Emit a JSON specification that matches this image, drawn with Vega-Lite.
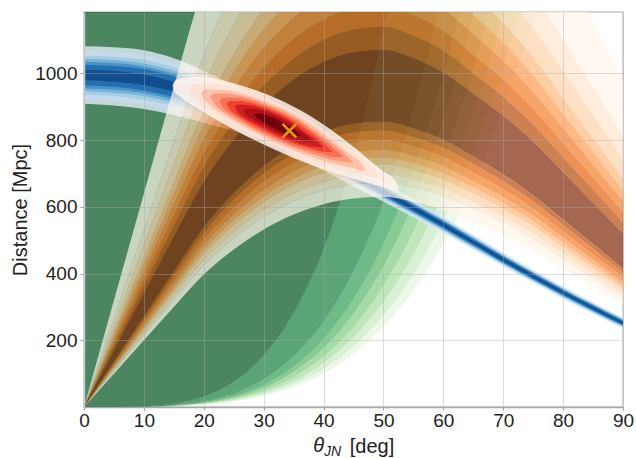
{"$schema":"https://vega.github.io/schema/vega-lite/v6.json","autosize":"none","width":539,"height":395,"padding":{"left":84,"top":12,"right":13,"bottom":51},"background":"white","config":{"view":{"stroke":"#c8c8c8","strokeWidth":1.5},"font":"Liberation Sans"},
"datasets":{
"g":[
{"t":0,"g1":0,"g2":0,"g3":0,"g4":0,"g5":0,"g6":0,"g7":0,"g8":0,"top":12000},
{"t":5,"g1":0.14,"g2":0.08,"g3":0.06,"g4":0.05,"g5":0.04,"g6":0.04,"g7":0.03,"g8":0.03,"top":12000},
{"t":10,"g1":2.1,"g2":1.1,"g3":0.9,"g4":0.8,"g5":0.7,"g6":0.6,"g7":0.5,"g8":0.4,"top":12000},
{"t":15,"g1":10.3,"g2":5.6,"g3":4.4,"g4":3.8,"g5":3.3,"g6":2.9,"g7":2.5,"g8":2.2,"top":12000},
{"t":20,"g1":32,"g2":17,"g3":14,"g4":12,"g5":10,"g6":8.9,"g7":7.7,"g8":6.8,"top":12000},
{"t":25,"g1":76,"g2":41,"g3":33,"g4":28,"g5":24,"g6":21,"g7":18,"g8":16,"top":12000},
{"t":30,"g1":155,"g2":84,"g3":67,"g4":57,"g5":49,"g6":43,"g7":37,"g8":33,"top":12000},
{"t":35,"g1":283,"g2":153,"g3":122,"g4":105,"g5":90,"g6":78,"g7":68,"g8":60,"top":12000},
{"t":40,"g1":474,"g2":257,"g3":205,"g4":175,"g5":151,"g6":131,"g7":114,"g8":100,"top":12000},
{"t":45,"g1":753,"g2":408,"g3":325,"g4":279,"g5":240,"g6":209,"g7":181,"g8":159,"top":12000},
{"t":50,"g1":1137,"g2":616,"g3":491,"g4":421,"g5":363,"g6":315,"g7":274,"g8":240,"top":12000},
{"t":55,"g1":1650,"g2":894,"g3":713,"g4":611,"g5":526,"g6":457,"g7":398,"g8":348,"top":12000},
{"t":60,"g1":2318,"g2":1256,"g3":1001,"g4":858,"g5":739,"g6":642,"g7":559,"g8":489,"top":12000},
{"t":65,"g1":3170,"g2":1718,"g3":1369,"g4":1173,"g5":1011,"g6":878,"g7":764,"g8":669,"top":12000},
{"t":70,"g1":4240,"g2":2298,"g3":1832,"g4":1569,"g5":1353,"g6":1174,"g7":1022,"g8":895,"top":12000},
{"t":75,"g1":5520,"g2":2992,"g3":2385,"g4":2042,"g5":1761,"g6":1529,"g7":1330,"g8":1165,"top":12000},
{"t":80,"g1":7100,"g2":3848,"g3":3067,"g4":2627,"g5":2265,"g6":1967,"g7":1711,"g8":1498,"top":12000}
],
"o":[
{"t":0,"u1":0,"u2":0,"u3":0,"u4":0,"u5":0,"u6":0,"u7":0,"u8":0,"u9":0,"l9":0,"l8":0,"l7":0,"l6":0,"l5":0,"l4":0,"l3":0,"l2":0,"l1":0},
{"t":5,"u1":320,"u2":266,"u3":243,"u4":224,"u5":213,"u6":202,"u7":191,"u8":181,"u9":170,"l9":136,"l8":132,"l7":127,"l6":122,"l5":119,"l4":116,"l3":111,"l2":107,"l1":100},
{"t":10,"u1":640,"u2":532,"u3":486,"u4":448,"u5":425,"u6":404,"u7":382,"u8":362,"u9":340,"l9":271,"l8":263,"l7":254,"l6":245,"l5":238,"l4":231,"l3":222,"l2":214,"l1":200},
{"t":15,"u1":960,"u2":798,"u3":729,"u4":672,"u5":638,"u6":606,"u7":573,"u8":543,"u9":510,"l9":407,"l8":395,"l7":381,"l6":367,"l5":356,"l4":347,"l3":333,"l2":320,"l1":300},
{"t":20,"u1":1270,"u2":1056,"u3":965,"u4":889,"u5":844,"u6":802,"u7":758,"u8":719,"u9":675,"l9":539,"l8":522,"l7":504,"l6":486,"l5":472,"l4":459,"l3":441,"l2":424,"l1":397},
{"t":25,"u1":1510,"u2":1256,"u3":1147,"u4":1057,"u5":1003,"u6":953,"u7":902,"u8":854,"u9":802,"l9":641,"l8":621,"l7":599,"l6":578,"l5":561,"l4":545,"l3":524,"l2":504,"l1":472},
{"t":30,"u1":1702,"u2":1415,"u3":1293,"u4":1192,"u5":1131,"u6":1075,"u7":1016,"u8":963,"u9":904,"l9":722,"l8":700,"l7":676,"l6":651,"l5":632,"l4":614,"l3":591,"l2":568,"l1":532},
{"t":35,"u1":1846,"u2":1535,"u3":1402,"u4":1292,"u5":1226,"u6":1166,"u7":1102,"u8":1044,"u9":981,"l9":783,"l8":759,"l7":733,"l6":706,"l5":685,"l4":666,"l3":640,"l2":616,"l1":577},
{"t":40,"u1":1946,"u2":1617,"u3":1477,"u4":1362,"u5":1292,"u6":1228,"u7":1161,"u8":1100,"u9":1034,"l9":825,"l8":800,"l7":772,"l6":744,"l5":722,"l4":702,"l3":675,"l2":649,"l1":608},
{"t":45,"u1":2000,"u2":1663,"u3":1519,"u4":1400,"u5":1328,"u6":1263,"u7":1194,"u8":1131,"u9":1063,"l9":848,"l8":823,"l7":794,"l6":765,"l5":743,"l4":722,"l3":694,"l2":668,"l1":625},
{"t":50,"u1":2016,"u2":1676,"u3":1531,"u4":1411,"u5":1339,"u6":1273,"u7":1203,"u8":1140,"u9":1071,"l9":855,"l8":829,"l7":800,"l6":771,"l5":748,"l4":728,"l3":699,"l2":673,"l1":630},
{"t":55,"u1":1968,"u2":1636,"u3":1494,"u4":1378,"u5":1307,"u6":1242,"u7":1175,"u8":1113,"u9":1046,"l9":835,"l8":809,"l7":781,"l6":753,"l5":731,"l4":710,"l3":683,"l2":657,"l1":615},
{"t":60,"u1":1888,"u2":1569,"u3":1434,"u4":1322,"u5":1254,"u6":1192,"u7":1127,"u8":1068,"u9":1003,"l9":801,"l8":776,"l7":749,"l6":722,"l5":701,"l4":681,"l3":655,"l2":630,"l1":590},
{"t":65,"u1":1770,"u2":1471,"u3":1344,"u4":1239,"u5":1175,"u6":1117,"u7":1056,"u8":1001,"u9":940,"l9":750,"l8":728,"l7":702,"l6":677,"l5":657,"l4":639,"l3":614,"l2":591,"l1":553},
{"t":70,"u1":1645,"u2":1367,"u3":1249,"u4":1151,"u5":1092,"u6":1038,"u7":982,"u8":930,"u9":874,"l9":697,"l8":676,"l7":653,"l6":629,"l5":611,"l4":594,"l3":571,"l2":549,"l1":514},
{"t":75,"u1":1498,"u2":1245,"u3":1137,"u4":1048,"u5":995,"u6":945,"u7":894,"u8":847,"u9":796,"l9":635,"l8":616,"l7":594,"l6":573,"l5":556,"l4":541,"l3":519,"l2":500,"l1":468},
{"t":80,"u1":1325,"u2":1101,"u3":1006,"u4":927,"u5":880,"u6":836,"u7":791,"u8":749,"u9":704,"l9":562,"l8":545,"l7":526,"l6":507,"l5":492,"l4":478,"l3":460,"l2":442,"l1":414},
{"t":85,"u1":1152,"u2":958,"u3":875,"u4":806,"u5":765,"u6":727,"u7":688,"u8":652,"u9":612,"l9":489,"l8":474,"l7":457,"l6":441,"l5":428,"l4":416,"l3":400,"l2":384,"l1":360},
{"t":90,"u1":979,"u2":814,"u3":744,"u4":685,"u5":650,"u6":618,"u7":584,"u8":554,"u9":520,"l9":415,"l8":403,"l7":389,"l6":375,"l5":364,"l4":353,"l3":340,"l2":327,"l1":306}
],
"b":[
{"k":"b1","t":0,"a":909,"h":1081},{"k":"b1","t":5,"a":904,"h":1078},{"k":"b1","t":10,"a":893,"h":1069},{"k":"b1","t":15,"a":875,"h":1045},{"k":"b1","t":20,"a":852,"h":1008},{"k":"b1","t":30,"a":797,"h":913},{"k":"b1","t":40,"a":708,"h":792},{"k":"b1","t":50,"a":615,"h":675},{"k":"b1","t":55,"a":569,"h":623},{"k":"b1","t":60,"a":521,"h":571},{"k":"b1","t":65,"a":471,"h":517},{"k":"b1","t":70,"a":421,"h":463},{"k":"b1","t":80,"a":324,"h":362},{"k":"b1","t":90,"a":235,"h":269},
{"k":"b2","t":0,"a":923,"h":1067},{"k":"b2","t":5,"a":918,"h":1064},{"k":"b2","t":10,"a":907,"h":1055},{"k":"b2","t":15,"a":889,"h":1031},{"k":"b2","t":20,"a":864,"h":996},{"k":"b2","t":30,"a":806,"h":904},{"k":"b2","t":40,"a":715,"h":785},{"k":"b2","t":50,"a":620,"h":670},{"k":"b2","t":55,"a":573,"h":619},{"k":"b2","t":60,"a":525,"h":567},{"k":"b2","t":65,"a":475,"h":513},{"k":"b2","t":70,"a":424,"h":460},{"k":"b2","t":80,"a":327,"h":359},{"k":"b2","t":90,"a":238,"h":266},
{"k":"b3","t":0,"a":937,"h":1053},{"k":"b3","t":5,"a":932,"h":1050},{"k":"b3","t":10,"a":921,"h":1041},{"k":"b3","t":15,"a":902,"h":1018},{"k":"b3","t":20,"a":877,"h":983},{"k":"b3","t":30,"a":816,"h":894},{"k":"b3","t":40,"a":721,"h":779},{"k":"b3","t":50,"a":625,"h":665},{"k":"b3","t":55,"a":578,"h":614},{"k":"b3","t":60,"a":529,"h":563},{"k":"b3","t":65,"a":478,"h":510},{"k":"b3","t":70,"a":428,"h":456},{"k":"b3","t":80,"a":330,"h":356},{"k":"b3","t":90,"a":240,"h":264},
{"k":"b4","t":0,"a":947,"h":1043},{"k":"b4","t":5,"a":942,"h":1040},{"k":"b4","t":10,"a":932,"h":1030},{"k":"b4","t":15,"a":912,"h":1008},{"k":"b4","t":20,"a":886,"h":974},{"k":"b4","t":30,"a":823,"h":887},{"k":"b4","t":40,"a":726,"h":774},{"k":"b4","t":50,"a":628,"h":662},{"k":"b4","t":55,"a":581,"h":611},{"k":"b4","t":60,"a":532,"h":560},{"k":"b4","t":65,"a":481,"h":507},{"k":"b4","t":70,"a":430,"h":454},{"k":"b4","t":80,"a":332,"h":354},{"k":"b4","t":90,"a":242,"h":262},
{"k":"b5","t":0,"a":955,"h":1035},{"k":"b5","t":5,"a":951,"h":1031},{"k":"b5","t":10,"a":941,"h":1021},{"k":"b5","t":15,"a":921,"h":999},{"k":"b5","t":20,"a":894,"h":966},{"k":"b5","t":30,"a":828,"h":882},{"k":"b5","t":40,"a":731,"h":769},{"k":"b5","t":50,"a":631,"h":659},{"k":"b5","t":55,"a":584,"h":608},{"k":"b5","t":60,"a":534,"h":558},{"k":"b5","t":65,"a":483,"h":505},{"k":"b5","t":70,"a":432,"h":452},{"k":"b5","t":80,"a":334,"h":352},{"k":"b5","t":90,"a":244,"h":260},
{"k":"b6","t":0,"a":964,"h":1026},{"k":"b6","t":5,"a":960,"h":1022},{"k":"b6","t":10,"a":949,"h":1013},{"k":"b6","t":15,"a":929,"h":991},{"k":"b6","t":20,"a":902,"h":958},{"k":"b6","t":30,"a":834,"h":876},{"k":"b6","t":40,"a":735,"h":765},{"k":"b6","t":50,"a":634,"h":656},{"k":"b6","t":55,"a":586,"h":606},{"k":"b6","t":60,"a":537,"h":555},{"k":"b6","t":65,"a":486,"h":502},{"k":"b6","t":70,"a":434,"h":450},{"k":"b6","t":80,"a":336,"h":350},{"k":"b6","t":90,"a":246,"h":258},
{"k":"b7","t":0,"a":980,"h":1010},{"k":"b7","t":5,"a":975,"h":1007},{"k":"b7","t":10,"a":965,"h":997},{"k":"b7","t":15,"a":945,"h":975},{"k":"b7","t":20,"a":916,"h":944},{"k":"b7","t":30,"a":845,"h":865},{"k":"b7","t":40,"a":742,"h":758},{"k":"b7","t":50,"a":640,"h":650},{"k":"b7","t":55,"a":591,"h":601},{"k":"b7","t":60,"a":541,"h":551},{"k":"b7","t":65,"a":490,"h":498},{"k":"b7","t":70,"a":438,"h":446},{"k":"b7","t":80,"a":340,"h":346},{"k":"b7","t":90,"a":249,"h":255}
],
"r":[
{"k":"r1","t":14.8,"a":963,"h":963},{"k":"r1","t":15,"a":949,"h":973},{"k":"r1","t":15.9,"a":932,"h":984},{"k":"r1","t":19.3,"a":892,"h":990},{"k":"r1","t":25.4,"a":828,"h":968},{"k":"r1","t":31.8,"a":772,"h":928},{"k":"r1","t":38.2,"a":724,"h":868},{"k":"r1","t":44.3,"a":688,"h":790},{"k":"r1","t":49.6,"a":661,"h":711},{"k":"r1","t":52.3,"a":650,"h":670},{"k":"r1","t":52.6,"a":658,"h":658},
{"k":"r2","t":17.6,"a":950,"h":950},{"k":"r2","t":17.8,"a":939,"h":959},{"k":"r2","t":18.5,"a":924,"h":966},{"k":"r2","t":21.4,"a":887,"h":969},{"k":"r2","t":26.4,"a":832,"h":948},{"k":"r2","t":31.8,"a":785,"h":915},{"k":"r2","t":37.1,"a":745,"h":865},{"k":"r2","t":42.2,"a":716,"h":802},{"k":"r2","t":46.6,"a":697,"h":739},{"k":"r2","t":48.9,"a":686,"h":702},{"k":"r2","t":49.1,"a":691,"h":691},
{"k":"r3","t":19.6,"a":940,"h":940},{"k":"r3","t":19.8,"a":930,"h":948},{"k":"r3","t":20.4,"a":916,"h":952},{"k":"r3","t":22.9,"a":881,"h":951},{"k":"r3","t":27.2,"a":835,"h":935},{"k":"r3","t":31.9,"a":793,"h":905},{"k":"r3","t":36.5,"a":759,"h":863},{"k":"r3","t":40.9,"a":733,"h":807},{"k":"r3","t":44.7,"a":717,"h":753},{"k":"r3","t":46.7,"a":708,"h":722},{"k":"r3","t":46.9,"a":713,"h":713},
{"k":"r4","t":21.1,"a":929,"h":929},{"k":"r4","t":21.8,"a":908,"h":940},{"k":"r4","t":24,"a":877,"h":939},{"k":"r4","t":27.8,"a":837,"h":925},{"k":"r4","t":31.8,"a":801,"h":899},{"k":"r4","t":35.9,"a":771,"h":861},{"k":"r4","t":39.7,"a":749,"h":813},{"k":"r4","t":43,"a":735,"h":767},{"k":"r4","t":44.9,"a":733,"h":733},
{"k":"r5","t":22.6,"a":918,"h":918},{"k":"r5","t":23.2,"a":899,"h":927},{"k":"r5","t":25.1,"a":873,"h":927},{"k":"r5","t":28.4,"a":837,"h":915},{"k":"r5","t":31.9,"a":806,"h":892},{"k":"r5","t":35.4,"a":780,"h":860},{"k":"r5","t":38.7,"a":763,"h":819},{"k":"r5","t":41.6,"a":750,"h":778},{"k":"r5","t":43.3,"a":749,"h":749},
{"k":"r6","t":23.8,"a":909,"h":909},{"k":"r6","t":24.3,"a":893,"h":917},{"k":"r6","t":25.9,"a":871,"h":917},{"k":"r6","t":28.8,"a":840,"h":906},{"k":"r6","t":31.8,"a":813,"h":887},{"k":"r6","t":34.8,"a":791,"h":859},{"k":"r6","t":37.7,"a":776,"h":824},{"k":"r6","t":40.2,"a":764,"h":788},{"k":"r6","t":41.6,"a":764,"h":764},
{"k":"r7","t":25.2,"a":899,"h":899},{"k":"r7","t":25.6,"a":886,"h":906},{"k":"r7","t":27,"a":865,"h":905},{"k":"r7","t":29.3,"a":842,"h":898},{"k":"r7","t":31.9,"a":818,"h":880},{"k":"r7","t":34.4,"a":799,"h":857},{"k":"r7","t":36.7,"a":786,"h":826},{"k":"r7","t":38.8,"a":779,"h":799},{"k":"r7","t":40,"a":778,"h":778},
{"k":"r8","t":26.7,"a":888,"h":888},{"k":"r8","t":27,"a":877,"h":893},{"k":"r8","t":28.1,"a":863,"h":893},{"k":"r8","t":30,"a":843,"h":887},{"k":"r8","t":31.9,"a":825,"h":873},{"k":"r8","t":33.9,"a":810,"h":854},{"k":"r8","t":35.8,"a":799,"h":831},{"k":"r8","t":37.4,"a":795,"h":811},{"k":"r8","t":38.3,"a":795,"h":795},
{"k":"r9","t":28.5,"a":876,"h":876},{"k":"r9","t":28.7,"a":869,"h":879},{"k":"r9","t":29.4,"a":860,"h":880},{"k":"r9","t":30.7,"a":845,"h":873},{"k":"r9","t":32,"a":832,"h":864},{"k":"r9","t":33.3,"a":822,"h":852},{"k":"r9","t":34.6,"a":816,"h":838},{"k":"r9","t":35.7,"a":813,"h":823},{"k":"r9","t":36.3,"a":812,"h":812}
]},
"encoding":{"x":{"field":"t","type":"quantitative","title":"[deg]","scale":{"domain":[0,90],"nice":false},"axis":{"values":[0,10,20,30,40,50,60,70,80,90],"titleFont":"Liberation Sans","titleFontSize":20,"titleFontWeight":"normal","titleColor":"#222222","titleX":287.5,"titleY":45,"titleBaseline":"alphabetic","labelFont":"Liberation Sans","labelFontSize":19,"labelColor":"#222222","labelPadding":1,"tickSize":3,"tickColor":"#a0a0a0","domainColor":"#a8a8a8","domainWidth":1.5,"grid":true,"gridColor":"#aaaaaa","gridOpacity":0.4,"gridWidth":1,"zindex":1,"labelFlush":false,"labelOverlap":false}}},
"layer":[
{"data":{"name":"g"},"mark":{"type":"area","interpolate":"monotone","clip":true,"opacity":0.7,"color":"#00531d"},"encoding":{"y":{"field":"top","type":"quantitative","title":"Distance [Mpc]","scale":{"domain":[0,1184],"nice":false},"axis":{"values":[200,400,600,800,1000],"format":"d","titleFont":"Liberation Sans","titleFontSize":20,"titleFontWeight":"normal","titleColor":"#222222","titleX":-64,"titleBaseline":"middle","labelFont":"Liberation Sans","labelFontSize":19,"labelColor":"#222222","labelPadding":3,"tickSize":4,"tickColor":"#a0a0a0","domainColor":"#c8c8c8","domainWidth":1.5,"grid":true,"gridColor":"#aaaaaa","gridOpacity":0.4,"gridWidth":1,"zindex":1}},"y2":{"field":"g1"}}},
{"data":{"name":"g"},"mark":{"type":"area","interpolate":"monotone","clip":true,"opacity":0.7,"color":"#167d3c"},"encoding":{"y":{"field":"g1","type":"quantitative","title":"Distance [Mpc]"},"y2":{"field":"g2"}}},
{"data":{"name":"g"},"mark":{"type":"area","interpolate":"monotone","clip":true,"opacity":0.7,"color":"#2f9e54"},"encoding":{"y":{"field":"g2","type":"quantitative","title":"Distance [Mpc]"},"y2":{"field":"g3"}}},
{"data":{"name":"g"},"mark":{"type":"area","interpolate":"monotone","clip":true,"opacity":0.7,"color":"#56b567"},"encoding":{"y":{"field":"g3","type":"quantitative","title":"Distance [Mpc]"},"y2":{"field":"g4"}}},
{"data":{"name":"g"},"mark":{"type":"area","interpolate":"monotone","clip":true,"opacity":0.7,"color":"#80ca81"},"encoding":{"y":{"field":"g4","type":"quantitative","title":"Distance [Mpc]"},"y2":{"field":"g5"}}},
{"data":{"name":"g"},"mark":{"type":"area","interpolate":"monotone","clip":true,"opacity":0.7,"color":"#a5db9f"},"encoding":{"y":{"field":"g5","type":"quantitative","title":"Distance [Mpc]"},"y2":{"field":"g6"}}},
{"data":{"name":"g"},"mark":{"type":"area","interpolate":"monotone","clip":true,"opacity":0.7,"color":"#c7e9c0"},"encoding":{"y":{"field":"g6","type":"quantitative","title":"Distance [Mpc]"},"y2":{"field":"g7"}}},
{"data":{"name":"g"},"mark":{"type":"area","interpolate":"monotone","clip":true,"opacity":0.7,"color":"#e5f5e0"},"encoding":{"y":{"field":"g7","type":"quantitative","title":"Distance [Mpc]"},"y2":{"field":"g8"}}},
{"data":{"name":"g"},"mark":{"type":"line","interpolate":"monotone","clip":true,"opacity":0.22,"color":"#000000","strokeWidth":0.6},"encoding":{"y":{"field":"g1","type":"quantitative","title":"Distance [Mpc]"}}},
{"data":{"name":"g"},"mark":{"type":"line","interpolate":"monotone","clip":true,"opacity":0.15,"color":"#000000","strokeWidth":0.6},"encoding":{"y":{"field":"g2","type":"quantitative","title":"Distance [Mpc]"}}},
{"data":{"name":"g"},"mark":{"type":"line","interpolate":"monotone","clip":true,"opacity":0.12,"color":"#000000","strokeWidth":0.6},"encoding":{"y":{"field":"g3","type":"quantitative","title":"Distance [Mpc]"}}},
{"data":{"name":"b"},"mark":{"type":"area","interpolate":"monotone","clip":true,"opacity":0.8},"encoding":{"y":{"field":"a","type":"quantitative","title":"Distance [Mpc]"},"y2":{"field":"h"},"color":{"field":"k","type":"nominal","legend":null,"scale":{"domain":["b1","b2","b3","b4","b5","b6","b7"],"range":["#deebf7","#c6dbef","#9ecae1","#6baed6","#3d8bc4","#1c66a8","#0c4684"]}}}},
{"data":{"name":"o"},"mark":{"type":"area","interpolate":"monotone","clip":true,"opacity":0.7,"color":"#fff5eb"},"encoding":{"y":{"field":"u1","type":"quantitative","title":"Distance [Mpc]"},"y2":{"field":"u2"}}},
{"data":{"name":"o"},"mark":{"type":"area","interpolate":"monotone","clip":true,"opacity":0.7,"color":"#fee6ce"},"encoding":{"y":{"field":"u2","type":"quantitative","title":"Distance [Mpc]"},"y2":{"field":"u3"}}},
{"data":{"name":"o"},"mark":{"type":"area","interpolate":"monotone","clip":true,"opacity":0.7,"color":"#fdd4ab"},"encoding":{"y":{"field":"u3","type":"quantitative","title":"Distance [Mpc]"},"y2":{"field":"u4"}}},
{"data":{"name":"o"},"mark":{"type":"area","interpolate":"monotone","clip":true,"opacity":0.7,"color":"#fdb97d"},"encoding":{"y":{"field":"u4","type":"quantitative","title":"Distance [Mpc]"},"y2":{"field":"u5"}}},
{"data":{"name":"o"},"mark":{"type":"area","interpolate":"monotone","clip":true,"opacity":0.7,"color":"#fd9b50"},"encoding":{"y":{"field":"u5","type":"quantitative","title":"Distance [Mpc]"},"y2":{"field":"u6"}}},
{"data":{"name":"o"},"mark":{"type":"area","interpolate":"monotone","clip":true,"opacity":0.7,"color":"#f47d2c"},"encoding":{"y":{"field":"u6","type":"quantitative","title":"Distance [Mpc]"},"y2":{"field":"u7"}}},
{"data":{"name":"o"},"mark":{"type":"area","interpolate":"monotone","clip":true,"opacity":0.7,"color":"#e5620f"},"encoding":{"y":{"field":"u7","type":"quantitative","title":"Distance [Mpc]"},"y2":{"field":"u8"}}},
{"data":{"name":"o"},"mark":{"type":"area","interpolate":"monotone","clip":true,"opacity":0.7,"color":"#b84a08"},"encoding":{"y":{"field":"u8","type":"quantitative","title":"Distance [Mpc]"},"y2":{"field":"u9"}}},
{"data":{"name":"o"},"mark":{"type":"area","interpolate":"monotone","clip":true,"opacity":0.7,"color":"#7f2704"},"encoding":{"y":{"field":"u9","type":"quantitative","title":"Distance [Mpc]"},"y2":{"field":"l9"}}},
{"data":{"name":"o"},"mark":{"type":"area","interpolate":"monotone","clip":true,"opacity":0.7,"color":"#b84a08"},"encoding":{"y":{"field":"l9","type":"quantitative","title":"Distance [Mpc]"},"y2":{"field":"l8"}}},
{"data":{"name":"o"},"mark":{"type":"area","interpolate":"monotone","clip":true,"opacity":0.7,"color":"#e5620f"},"encoding":{"y":{"field":"l8","type":"quantitative","title":"Distance [Mpc]"},"y2":{"field":"l7"}}},
{"data":{"name":"o"},"mark":{"type":"area","interpolate":"monotone","clip":true,"opacity":0.7,"color":"#f47d2c"},"encoding":{"y":{"field":"l7","type":"quantitative","title":"Distance [Mpc]"},"y2":{"field":"l6"}}},
{"data":{"name":"o"},"mark":{"type":"area","interpolate":"monotone","clip":true,"opacity":0.7,"color":"#fd9b50"},"encoding":{"y":{"field":"l6","type":"quantitative","title":"Distance [Mpc]"},"y2":{"field":"l5"}}},
{"data":{"name":"o"},"mark":{"type":"area","interpolate":"monotone","clip":true,"opacity":0.7,"color":"#fdb97d"},"encoding":{"y":{"field":"l5","type":"quantitative","title":"Distance [Mpc]"},"y2":{"field":"l4"}}},
{"data":{"name":"o"},"mark":{"type":"area","interpolate":"monotone","clip":true,"opacity":0.7,"color":"#fdd4ab"},"encoding":{"y":{"field":"l4","type":"quantitative","title":"Distance [Mpc]"},"y2":{"field":"l3"}}},
{"data":{"name":"o"},"mark":{"type":"area","interpolate":"monotone","clip":true,"opacity":0.7,"color":"#fee6ce"},"encoding":{"y":{"field":"l3","type":"quantitative","title":"Distance [Mpc]"},"y2":{"field":"l2"}}},
{"data":{"name":"o"},"mark":{"type":"area","interpolate":"monotone","clip":true,"opacity":0.7,"color":"#fff5eb"},"encoding":{"y":{"field":"l2","type":"quantitative","title":"Distance [Mpc]"},"y2":{"field":"l1"}}},
{"data":{"name":"r"},"mark":{"type":"area","interpolate":"monotone","clip":true,"opacity":0.85},"encoding":{"y":{"field":"a","type":"quantitative","title":"Distance [Mpc]"},"y2":{"field":"h"},"color":{"field":"k","type":"nominal","legend":null,"scale":{"domain":["r1","r2","r3","r4","r5","r6","r7","r8","r9"],"range":["#fff5f0","#fee0d2","#fcbba1","#fc9272","#fb6a4a","#ef3b2c","#cb181d","#a50f15","#67000d"]}}}},
{"data":{"values":[{"t":34.3,"d":828}]},"mark":{"type":"point","shape":"M-1,-1L1,1M-1,1L1,-1","size":190,"filled":false,"stroke":"#e39c12","strokeWidth":2.6,"opacity":1},"encoding":{"y":{"field":"d","type":"quantitative","title":"Distance [Mpc]"}}},
{"data":{"values":[{"t":39.2,"d":-135,"s":"θ"}]},"mark":{"type":"text","font":"Liberation Sans","fontSize":20,"fontStyle":"italic","color":"#222222","align":"center","baseline":"alphabetic","clip":false},"encoding":{"y":{"field":"d","type":"quantitative","title":"Distance [Mpc]"},"text":{"field":"s"}}},
{"data":{"values":[{"t":41.5,"d":-147,"s":"JN"}]},"mark":{"type":"text","font":"Liberation Sans","fontSize":14,"fontStyle":"italic","color":"#222222","align":"center","baseline":"alphabetic","clip":false},"encoding":{"y":{"field":"d","type":"quantitative","title":"Distance [Mpc]"},"text":{"field":"s"}}}
],
"resolve":{"scale":{"color":"independent"}}}
